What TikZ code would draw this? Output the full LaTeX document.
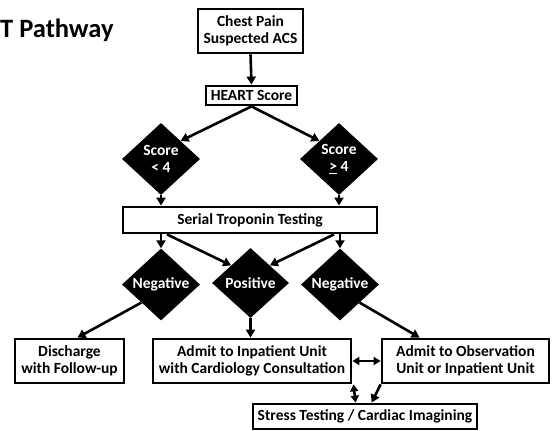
\documentclass[tikz,border=0pt]{standalone}
\usepackage{fontspec}
\setmainfont{Carlito}
\usetikzlibrary{shapes.geometric,arrows.meta}

\begin{document}
\begin{tikzpicture}[x=1pt,y=-1pt,
    box/.style={draw,line width=2.8pt,fill=white,align=center,inner sep=0pt,
        font=\fontsize{15.5}{16.5}\selectfont\bfseries},
    decision/.style={diamond,fill=black,text=white,align=center,inner sep=0pt,
        minimum width=78pt,minimum height=72pt,font=\fontsize{15.5}{16.5}\selectfont\bfseries},
    arr/.style={line width=2.6pt,-{Triangle[length=8pt,width=9pt]}},
    darr/.style={line width=2.6pt,{Triangle[length=7pt,width=8pt]}-{Triangle[length=7pt,width=8pt]}}]

    % Fix the canvas to the size of the reference
    \useasboundingbox (0,0) rectangle (555,431);

    % Title, cut off at the left edge
    \node[anchor=base west,inner sep=0pt,font=\fontsize{26.5}{30}\selectfont\bfseries] (title) at (0,37) {T Pathway};

    % Entry point and score
    \node[box,minimum width=105pt,minimum height=44pt] (chest) at (250.5,31) {Chest Pain\\Suspected ACS};
    \node[box,minimum width=91pt,minimum height=19pt] (heart) at (251.5,95.5) {HEART Score};

    % Score decisions
    \node[decision] (low) at (161,159) {Score\\< 4};
    \node[decision] (high) at (339,159) {Score\\\underline{>} 4};

    % Troponin testing
    \node[box,minimum width=254pt,minimum height=26pt] (serial) at (250,220) {Serial Troponin Testing};

    % Troponin results
    \node[decision] (negL) at (161,284.5) {Negative};
    \node[decision,minimum width=77pt,minimum height=70pt] (pos) at (250.5,283) {Positive};
    \node[decision] (negR) at (340,284.5) {Negative};

    % Dispositions
    \node[box,minimum width=109pt,minimum height=44pt] (discharge) at (69.5,361) {Discharge\\with Follow-up};
    \node[box,minimum width=198pt,minimum height=44pt] (inpatient) at (252,361) {Admit to Inpatient Unit\\with Cardiology Consultation};
    \node[box,minimum width=167pt,minimum height=44pt] (observ) at (465.5,361) {Admit to Observation\\Unit or Inpatient Unit};
    \node[box,minimum width=224pt,minimum height=25pt] (stress) at (365,416.5) {Stress Testing / Cardiac Imagining};

    % Connectors, top half
    \draw[arr] (chest.south) -- (heart.north);
    \draw[arr] (heart.south) -- (low.north east);
    \draw[arr] (heart.south) -- (high.north west);
    \draw[arr] (low.south) -- (low.south |- serial.north);
    \draw[arr] (high.south) -- (high.south |- serial.north);

    % Connectors from the troponin box
    \draw[arr] (negL.north |- serial.south) -- (negL.north);
    \draw[arr] (negR.north |- serial.south) -- (negR.north);
    \draw[arr] ([xshift=6pt]negL.north |- serial.south) -- (pos.north west);
    \draw[arr] ([xshift=-6pt]negR.north |- serial.south) -- (pos.north east);

    % Connectors to the dispositions
    \draw[arr] (negL.south west) -- ([xshift=8pt]discharge.north);
    \draw[arr] (pos.south) -- (pos.south |- inpatient.north);
    \draw[arr] (negR.south east) -- ([xshift=39pt]observ.north west);
    \draw[darr] (inpatient.east) -- (observ.west);
    \draw[darr] ([xshift=1pt]inpatient.south east) -- ([xshift=104pt]stress.north west);
    \draw[arr] (observ.south west) -- ([xshift=120pt]stress.north west);

\end{tikzpicture}
\end{document}
